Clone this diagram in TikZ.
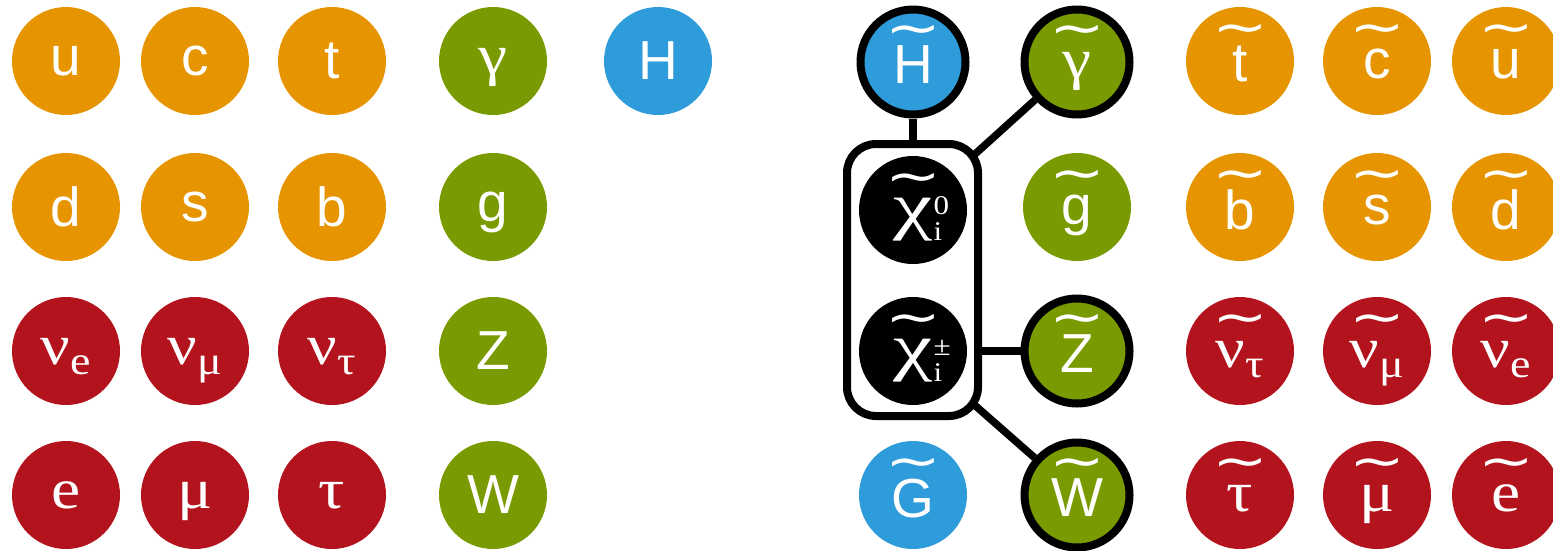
\documentclass[tikz,border=0pt]{standalone}
\usepackage{fontspec}
\usepackage{graphicx}
\setmainfont{Liberation Serif}
\newfontfamily\sansf{Liberation Sans}
\newfontfamily\grf[FakeStretch=1.15]{Liberation Serif}
\newfontfamily\tildef{DejaVu Sans}
\definecolor{qorange}{HTML}{E69500}
\definecolor{lred}{HTML}{B3131C}
\definecolor{bgreen}{HTML}{7A9A01}
\definecolor{hblue}{HTML}{2E9BDB}
\pgfdeclarelayer{bg}
\pgfsetlayers{bg,main}
\newlength\tlraise
\newcommand\tildeglyph{\scalebox{1.45}[1.1]{\tildef\fontsize{46}{46}\selectfont\symbol{"7E}}}
\newcommand\tld[1]{\leavevmode\setbox0\hbox{#1}\setbox2\hbox{\tildeglyph}%
  \tlraise=\dimexpr 30pt+\ht0/2-(\ht2-\dp2)/2\relax
  \rlap{\hbox to\wd0{\hss\raisebox{\tlraise}[\dimexpr\ht0+6pt\relax][0pt]{\box2}\hss}}\box0}
\newcommand\sbs[1]{\raisebox{-10pt}{\fontsize{40}{40}\selectfont #1}}
\newcommand\scr[1]{{\fontsize{27}{27}\selectfont #1}}
\newcommand\chisym{\scalebox{1.2}[1]{\fontsize{64}{64}\selectfont χ}}
\newcommand\chilab[1]{\tld{\chisym}\rlap{\kern1pt\raisebox{13pt}{\scr{#1}}}\rlap{\kern1pt\raisebox{-13pt}{\scr{i}}}}
\tikzset{
  base/.style={circle, inner sep=0pt, minimum size=108, text=white, text depth=0pt},
  bd/.style={base, minimum size=105, draw=black, line width=8},
  sa/.style={font=\sansf\fontsize{55}{60}\selectfont},
  gr/.style={font=\grf\fontsize{57}{60}\selectfont},
  quark/.style={base, fill=qorange, sa},
  lepton/.style={base, fill=lred, gr},
  boson/.style={base, fill=bgreen},
  higgs/.style={base, fill=hblue, sa},
  chibox/.style={draw=black, line width=8, fill=white, rounded corners=29,
    minimum width=131, minimum height=272, inner sep=0pt},
  chi/.style={base, fill=black, font=\grf\fontsize{60}{60}\selectfont},
  conn/.style={draw=black, line width=7.5}
}
\begin{document}
\begin{tikzpicture}[x=1pt, y=-1pt]
\useasboundingbox (0,0) rectangle (1553,550);
% Standard Model
\node[quark] (u) at (66,61) {u};
\node[quark] (c) at (195,61) {c};
\node[quark] (t) at (332,61) {t};
\node[quark] (d) at (66,207) {d};
\node[quark] (s) at (195,207) {s};
\node[quark] (b) at (332,207) {b};
\node[lepton] (nue) at (66,351) {ν\sbs{e}};
\node[lepton] (num) at (195,351) {ν\sbs{μ}};
\node[lepton] (nut) at (332,351) {ν\sbs{τ}};
\node[lepton] (e) at (66,495) {e};
\node[lepton] (mu) at (195,495) {μ};
\node[lepton] (tau) at (332,495) {τ};
\node[boson, gr] (gam) at (493,61) {γ};
\node[boson, sa] (g) at (493,207) {g};
\node[boson, sa] (Z) at (493,351) {Z};
\node[boson, sa] (W) at (493,495) {W};
\node[higgs] (H) at (658,61) {H};
% SUSY partners
\node[chibox] (box) at (912.5,280) {};
\node[chi] (chi0) at (913,210) {\chilab{0}};
\node[chi] (chipm) at (913,351) {\chilab{±}};
\node[bd, fill=hblue, sa] (Ht) at (913,62) {\tld{H}};
\node[bd, fill=bgreen, gr] (gamt) at (1077,62) {\tld{γ}};
\node[boson, sa] (gt) at (1077,207) {\tld{g}};
\node[bd, fill=bgreen, sa] (Zt) at (1077,351) {\tld{Z}};
\node[bd, fill=bgreen, sa] (Wt) at (1077,495) {\tld{W}};
\node[higgs] (Gt) at (913,495) {\tld{G}};
\node[quark] (tt) at (1240,61) {\tld{t}};
\node[quark] (ct) at (1377,61) {\tld{c}};
\node[quark] (ut) at (1506,61) {\tld{u}};
\node[quark] (bt) at (1240,207) {\tld{b}};
\node[quark] (st) at (1377,207) {\tld{s}};
\node[quark] (dt) at (1506,207) {\tld{d}};
\node[lepton] (nutt) at (1240,351) {\tld{ν\sbs{τ}}};
\node[lepton] (numt) at (1377,351) {\tld{ν\sbs{μ}}};
\node[lepton] (nuet) at (1506,351) {\tld{ν\sbs{e}}};
\node[lepton] (taut) at (1240,495) {\tld{τ}};
\node[lepton] (mut) at (1377,495) {\tld{μ}};
\node[lepton] (et) at (1506,495) {\tld{e}};
\begin{pgfonlayer}{bg}
\draw[conn] (Ht) -- (chi0);
\draw[conn] (gamt) -- (chi0);
\draw[conn] (Zt) -- (chipm);
\draw[conn] (Wt) -- (chipm);
\end{pgfonlayer}
\end{tikzpicture}
\end{document}
